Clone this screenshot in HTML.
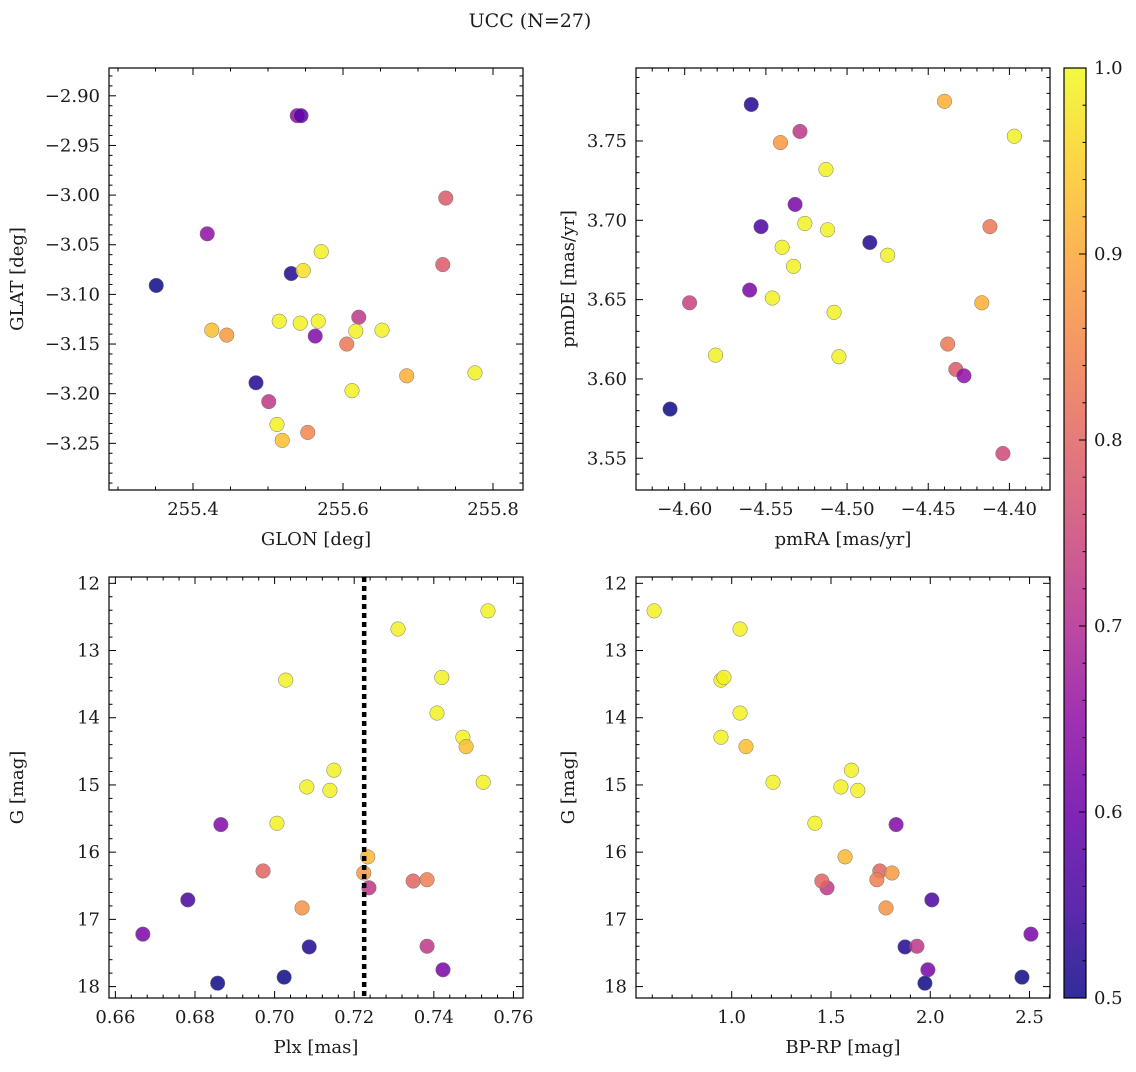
<!DOCTYPE html>
<html><head><meta charset="utf-8"><style>
html,body{margin:0;padding:0;background:#fff;}
svg text{font-family:"DejaVu Serif","Liberation Serif",serif;fill:#1a1a1a;}
</style></head><body>
<svg id="fig" width="1136" height="1067" xmlns="http://www.w3.org/2000/svg">
<text x="530" y="27" font-size="19" text-anchor="middle">UCC (N=27)</text>
</svg>
<script>
// Top-left: GLON / GLAT
const glon = [255.539,255.544,255.737,255.419,255.571,255.531,255.547,255.733,255.351,255.515,255.543,255.567,255.621,255.425,255.445,255.617,255.652,255.563,255.605,255.685,255.776,255.484,255.612,255.501,255.512,255.553,255.519];
const glat = [-2.920,-2.920,-3.003,-3.039,-3.057,-3.079,-3.076,-3.070,-3.091,-3.127,-3.129,-3.127,-3.123,-3.136,-3.141,-3.137,-3.136,-3.142,-3.150,-3.182,-3.179,-3.189,-3.197,-3.208,-3.231,-3.239,-3.247];
const probTL = [0.65,0.58,0.78,0.65,0.99,0.52,0.97,0.78,0.5,0.99,0.99,0.99,0.72,0.93,0.88,0.99,0.99,0.63,0.83,0.91,0.99,0.52,0.99,0.72,0.99,0.85,0.93];
// Top-right: pmRA / pmDE
const pmra = [-4.559,-4.440,-4.529,-4.541,-4.397,-4.513,-4.532,-4.553,-4.526,-4.512,-4.412,-4.486,-4.540,-4.475,-4.533,-4.560,-4.597,-4.546,-4.508,-4.417,-4.581,-4.505,-4.438,-4.433,-4.428,-4.609,-4.404];
const pmde = [3.773,3.775,3.756,3.749,3.753,3.732,3.710,3.696,3.698,3.694,3.696,3.686,3.683,3.678,3.671,3.656,3.648,3.651,3.642,3.648,3.615,3.614,3.622,3.606,3.602,3.581,3.553];
const probTR = [0.52,0.91,0.72,0.88,0.99,0.99,0.62,0.56,0.99,0.99,0.83,0.52,0.99,0.99,0.99,0.62,0.74,0.99,0.99,0.91,0.99,0.99,0.83,0.78,0.65,0.5,0.75];
// Bottom: Plx, G, BP-RP
const plx = [0.7536,0.7310,0.7028,0.7420,0.7408,0.7473,0.7481,0.7149,0.7081,0.7139,0.7524,0.6865,0.7006,0.7234,0.6971,0.7224,0.7237,0.7348,0.7383,0.6782,0.7069,0.6669,0.7087,0.7383,0.7423,0.7024,0.6857];
const gmag = [12.41,12.68,13.44,13.40,13.93,14.29,14.43,14.78,15.03,15.08,14.96,15.59,15.57,16.07,16.28,16.31,16.53,16.43,16.41,16.71,16.83,17.22,17.41,17.40,17.75,17.86,17.95];
const bprp = [0.609,1.042,0.946,0.961,1.042,0.946,1.072,1.603,1.550,1.635,1.208,1.828,1.419,1.571,1.746,1.807,1.480,1.454,1.731,2.008,1.777,2.507,1.873,1.933,1.988,2.462,1.973];
const probBot = [0.99,0.99,0.99,0.99,0.99,0.99,0.93,0.99,0.99,0.99,0.99,0.63,0.99,0.92,0.8,0.88,0.72,0.8,0.84,0.56,0.87,0.62,0.52,0.72,0.62,0.5,0.5];
const plxLine = 0.7225;
// Tick labels
const ticksTLx = [255.4,255.6,255.8];
const ticksTLy = [-2.90,-2.95,-3.00,-3.05,-3.10,-3.15,-3.20,-3.25];
const ticksTRx = [-4.60,-4.55,-4.50,-4.45,-4.40];
const ticksTRy = [3.55,3.60,3.65,3.70,3.75];
const ticksBLx = [0.66,0.68,0.70,0.72,0.74,0.76];
const ticksG = [12,13,14,15,16,17,18];
const ticksBRx = [1.0,1.5,2.0,2.5];
const ticksCbar = [0.5,0.6,0.7,0.8,0.9,1.0];

const NS = "http://www.w3.org/2000/svg";
const svg = document.getElementById('fig');
const stops = ['#0d0887','#41049d','#6a00a8','#8f0da4','#b12a90','#cc4778','#e16462','#f2844b','#fca636','#fcce25','#f0f921'];
function hex(h){return [parseInt(h.substr(1,2),16),parseInt(h.substr(3,2),16),parseInt(h.substr(5,2),16)];}
function plasma(t){t=Math.max(0,Math.min(1,t));const f=t*10,i=Math.min(9,Math.floor(f)),r=f-i;const a=hex(stops[i]),b=hex(stops[i+1]);
  return 'rgb('+a.map((v,k)=>Math.round(v+(b[k]-v)*r)).join(',')+')';}
function cmap(p){return plasma((p-0.5)/0.5);}
function mk(tag,attrs,parent){const e=document.createElementNS(NS,tag);for(const k in attrs)e.setAttribute(k,attrs[k]);(parent||svg).appendChild(e);return e;}

function panel(name,box,xr,yr,xt,yt,xminor,yminor,xfmt,yfmt,xlab,ylab,xs,ys,ps,invertY){
  const g=mk('g',{});
  
  
  const X=v=>box.x0+(v-xr[0])/(xr[1]-xr[0])*(box.x1-box.x0);
  const Y=invertY?(v=>box.y0+(v-yr[0])/(yr[1]-yr[0])*(box.y1-box.y0)):(v=>box.y1-(v-yr[0])/(yr[1]-yr[0])*(box.y1-box.y0));
  const pg=mk('g',{},g);
  
  
  for(let i=0;i<xs.length;i++){
    const c=mk('circle',{cx:X(xs[i]),cy:Y(ys[i]),r:7.3,fill:cmap(ps[i]),'fill-opacity':0.85,stroke:'#777','stroke-width':0.5},pg);
    
    
  }
  const fr=mk('rect',{x:box.x0,y:box.y0,width:box.x1-box.x0,height:box.y1-box.y0,fill:'none',stroke:'#000','stroke-width':1.2},g);
  
  
  const tg=mk('g',{stroke:'#000','stroke-width':1},g);
  
  
  const eps=1e-9;
  let s=Math.ceil((Math.min(...xr)-eps)/xminor);
  for(let k=s;k*xminor<=Math.max(...xr)+eps;k++){const v=k*xminor,px=X(v);
    const major=xt.some(t=>Math.abs(t-v)<xminor/3);const L=major?7:3.5;
    mk('line',{x1:px,x2:px,y1:box.y1,y2:box.y1-L},tg);mk('line',{x1:px,x2:px,y1:box.y0,y2:box.y0+L},tg);}
  s=Math.ceil((Math.min(...yr)-eps)/yminor);
  for(let k=s;k*yminor<=Math.max(...yr)+eps;k++){const v=k*yminor,py=Y(v);
    const major=yt.some(t=>Math.abs(t-v)<yminor/3);const L=major?7:3.5;
    mk('line',{x1:box.x0,x2:box.x0+L,y1:py,y2:py},tg);mk('line',{x1:box.x1,x2:box.x1-L,y1:py,y2:py},tg);}
  for(const t of xt){const e=mk('text',{x:X(t),y:box.y1+25,'font-size':18,'text-anchor':'middle'},g);e.textContent=xfmt(t);
    
    }
  for(const t of yt){const e=mk('text',{x:box.x0-9,y:Y(t)+6,'font-size':18,'text-anchor':'end'},g);e.textContent=yfmt(t);
    
    }
  const xl=mk('text',{x:(box.x0+box.x1)/2,y:box.y1+55,'font-size':18,'text-anchor':'middle'},g);xl.textContent=xlab;
  
  
  const ylx=box.x0-(box.x0<300?86:62);
  const yl=mk('text',{x:ylx,y:(box.y0+box.y1)/2,'font-size':18,'text-anchor':'middle',transform:`rotate(-90 ${ylx} ${(box.y0+box.y1)/2})`},g);yl.textContent=ylab;
  
  
  return {g,X,Y,box};
}
const m=v=>v<0?'\u2212'+Math.abs(v).toFixed(2):v.toFixed(2);
panel('glon-glat-panel',{x0:109,x1:523,y0:68,y1:490},[255.288,255.84],[-3.297,-2.872],ticksTLx,ticksTLy,0.05,0.01,v=>v.toFixed(1),m,'GLON [deg]','GLAT [deg]',glon,glat,probTL,false);
panel('pm-panel',{x0:636,x1:1050,y0:68,y1:490},[-4.630,-4.375],[3.530,3.796],ticksTRx,ticksTRy,0.01,0.01,m,v=>v.toFixed(2),'pmRA [mas/yr]','pmDE [mas/yr]',pmra,pmde,probTR,false);
const bl=panel('plx-g-panel',{x0:109,x1:523,y0:577,y1:998},[0.6584,0.7624],[11.906,18.17],ticksBLx,ticksG,0.004,0.2,v=>v.toFixed(2),v=>String(v),'Plx [mas]','G [mag]',plx,gmag,probBot,true);
panel('cmd-panel',{x0:636,x1:1050,y0:577,y1:998},[0.518,2.603],[11.906,18.17],ticksBRx,ticksG,0.1,0.2,v=>v.toFixed(1),v=>String(v),'BP-RP [mag]','G [mag]',bprp,gmag,probBot,true);
const dl=mk('line',{x1:bl.X(plxLine),x2:bl.X(plxLine),y1:577,y2:998,stroke:'#000','stroke-width':4.5,'stroke-dasharray':'5 4'},bl.g);


const defs=mk('defs',{});
const lg=mk('linearGradient',{id:'cg',x1:0,y1:1,x2:0,y2:0},defs);
stops.forEach((c,i)=>mk('stop',{offset:(i*10)+'%','stop-color':c},lg));
const cb=mk('g',{});


const cb0=68,cb1=998;
mk('rect',{x:1064,y:cb0,width:22,height:cb1-cb0,fill:'url(#cg)','fill-opacity':0.85,stroke:'#000','stroke-width':1.2},cb);
const CY=v=>cb1-(v-0.5)/0.5*(cb1-cb0);
for(let k=25;k<=50;k++){const v=k*0.02,py=CY(v);const major=Math.abs(Math.round(v*10)-v*10)<1e-6;
  mk('line',{x1:1086,x2:1086-(major?7:3.5),y1:py,y2:py,stroke:'#000','stroke-width':1},cb);}
for(const t of ticksCbar){const e=mk('text',{x:1094,y:CY(t)+6,'font-size':18},cb);e.textContent=t.toFixed(1);
  
  }
</script>
</body></html>
